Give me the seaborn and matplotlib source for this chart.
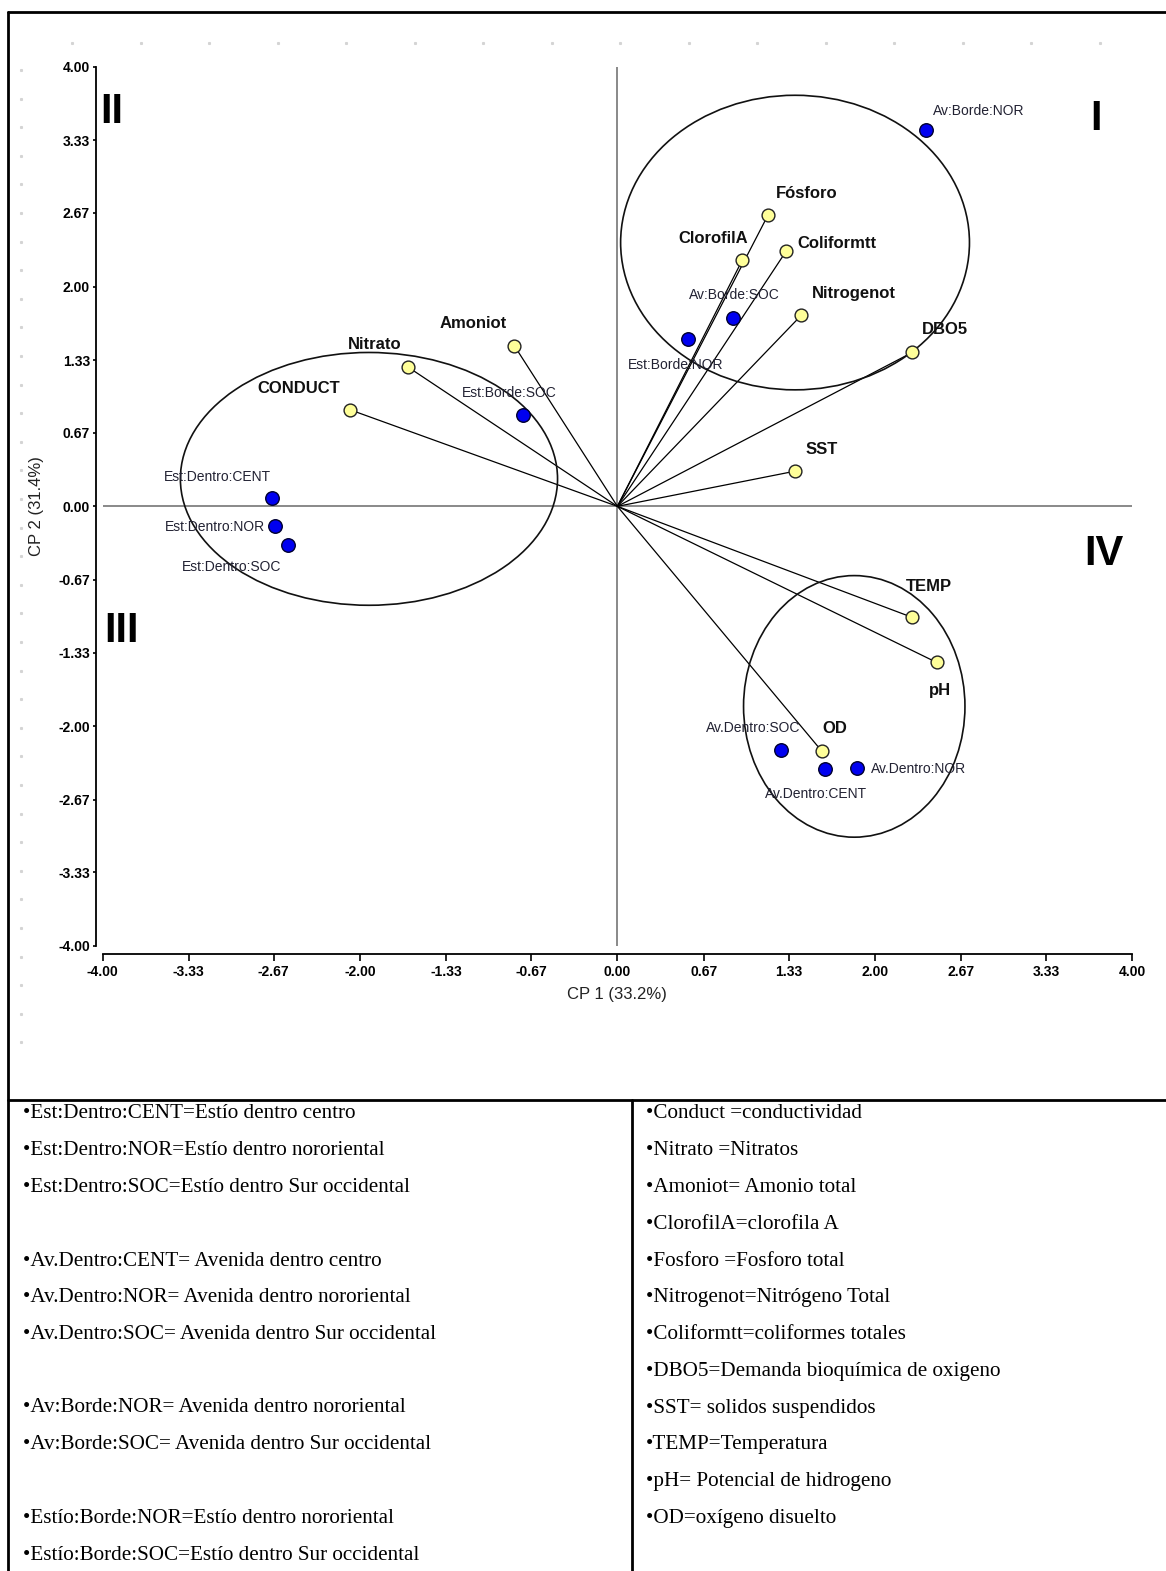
import numpy as np
import pandas as pd
import matplotlib
matplotlib.use("Agg")
import matplotlib.pyplot as plt
import seaborn as sns
from matplotlib.patches import Ellipse
from matplotlib.lines import Line2D

# ---- variable loadings on the first two principal components ----
var_names = ["Fósforo", "ClorofilA", "Coliformtt", "Nitrogenot", "DBO5", "SST",
             "TEMP", "pH", "OD", "Amoniot", "Nitrato", "CONDUCT"]
var_cp1 = [1.17, 0.97, 1.31, 1.43, 2.29, 1.38, 2.29, 2.48, 1.59, -0.80, -1.63, -2.08]
var_cp2 = [2.65, 2.24, 2.32, 1.74, 1.40, 0.32, -1.01, -1.42, -2.23, 1.46, 1.27, 0.88]

# ---- site / season scores ----
site_names = ["Av:Borde:NOR", "Av:Borde:SOC", "Est:Borde:NOR", "Est:Borde:SOC",
              "Est:Dentro:CENT", "Est:Dentro:NOR", "Est:Dentro:SOC",
              "Av.Dentro:SOC", "Av.Dentro:CENT", "Av.Dentro:NOR"]
site_cp1 = [2.40, 0.90, 0.55, -0.73, -2.68, -2.66, -2.56, 1.27, 1.61, 1.86]
site_cp2 = [3.42, 1.71, 1.52, 0.83, 0.08, -0.18, -0.35, -2.22, -2.39, -2.38]

# ---- groupings (centre x, centre y, width, height) ----
group_cx = [-1.93, 1.38, 1.84]
group_cy = [0.25, 2.40, -1.82]
group_w = [2.93, 2.71, 1.72]
group_h = [2.30, 2.68, 2.38]

axis_ticks = [-4.00, -3.33, -2.67, -2.00, -1.33, -0.67, 0.00, 0.67, 1.33, 2.00, 2.67, 3.33, 4.00]
tick_labels = ["-4.00", "-3.33", "-2.67", "-2.00", "-1.33", "-0.67", "0.00",
               "0.67", "1.33", "2.00", "2.67", "3.33", "4.00"]

# label placement: (dx, dy) in pixels, horizontal alignment
var_label_pos = {
    "Fósforo": (8, 22, "left"), "ClorofilA": (6, 22, "right"),
    "Coliformtt": (11, 8, "left"), "Nitrogenot": (10, 22, "left"),
    "DBO5": (10, 23, "left"), "SST": (10, 22, "left"),
    "TEMP": (-6, 31, "left"), "pH": (3, -28, "center"),
    "OD": (13, 23, "center"), "Amoniot": (-8, 22, "right"),
    "Nitrato": (-33, 22, "center"), "CONDUCT": (-10, 21, "right"),
}
site_label_pos = {
    "Av:Borde:NOR": (7, 19, "left"), "Av:Borde:SOC": (1, 23, "center"),
    "Est:Borde:NOR": (-13, -26, "center"), "Est:Borde:SOC": (-14, 22, "center"),
    "Est:Dentro:CENT": (-1, 21, "right"), "Est:Dentro:NOR": (-10, -1, "right"),
    "Est:Dentro:SOC": (-56, -22, "center"), "Av.Dentro:SOC": (-28, 22, "center"),
    "Av.Dentro:CENT": (-9, -25, "center"), "Av.Dentro:NOR": (14, -1, "left"),
}

legend_left = ["•Est:Dentro:CENT=Estío dentro centro",
               "•Est:Dentro:NOR=Estío dentro nororiental",
               "•Est:Dentro:SOC=Estío dentro Sur occidental",
               "",
               "•Av.Dentro:CENT= Avenida dentro centro",
               "•Av.Dentro:NOR= Avenida dentro nororiental",
               "•Av.Dentro:SOC= Avenida dentro Sur occidental",
               "",
               "•Av:Borde:NOR= Avenida dentro nororiental",
               "•Av:Borde:SOC= Avenida dentro Sur occidental",
               "",
               "•Estío:Borde:NOR=Estío dentro nororiental",
               "•Estío:Borde:SOC=Estío dentro Sur occidental"]
legend_right = ["•Conduct =conductividad", "•Nitrato =Nitratos",
                "•Amoniot= Amonio total", "•ClorofilA=clorofila A",
                "•Fosforo =Fosforo total", "•Nitrogenot=Nitrógeno Total",
                "•Coliformtt=coliformes totales",
                "•DBO5=Demanda bioquímica de oxigeno",
                "•SST= solidos suspendidos", "•TEMP=Temperatura",
                "•pH= Potencial de hidrogeno", "•OD=oxígeno disuelto"]

sns.set_style("ticks")
narrow = ["Liberation Sans Narrow", "Liberation Sans", "DejaVu Sans"]
serif = ["Liberation Serif", "DejaVu Serif"]
plt.rcParams["font.family"] = narrow

W, H = 1166, 1571
fig = plt.figure(figsize=(W / 100, H / 100), dpi=100)
fig.patch.set_facecolor("white")

ax = fig.add_axes([102.5 / W, 1 - 946 / H, (1132.3 - 102.5) / W, (946 - 66.7) / H])
ax.set_facecolor("none")

vars_df = pd.DataFrame({"cp1": var_cp1, "cp2": var_cp2, "name": var_names})
sites_df = pd.DataFrame({"cp1": site_cp1, "cp2": site_cp2, "name": site_names})

# reference axes through the origin
ax.axhline(0, color="#808080", lw=1.3, zorder=1)
ax.axvline(0, color="#808080", lw=1.3, zorder=1)

# loading vectors
for x, y in zip(var_cp1, var_cp2):
    ax.plot([0, x], [0, y], color="black", lw=0.9, zorder=2)

# group ellipses
for cx, cy, w, h in zip(group_cx, group_cy, group_w, group_h):
    ax.add_patch(Ellipse((cx, cy), w, h, fill=False, edgecolor="#111111", lw=1.2, zorder=2))

sns.scatterplot(data=vars_df, x="cp1", y="cp2", ax=ax, s=85, color="#FFFF99",
                edgecolor="#222222", linewidth=1.0, zorder=4, legend=False)
sns.scatterplot(data=sites_df, x="cp1", y="cp2", ax=ax, s=95, color="#0000F0",
                edgecolor="#000030", linewidth=1.0, zorder=4, legend=False)

for name, x, y in zip(var_names, var_cp1, var_cp2):
    dx, dy, ha = var_label_pos[name]
    ax.annotate(name, (x, y), xytext=(dx, dy), textcoords="offset pixels",
                ha=ha, va="center", fontsize=12, fontweight="bold",
                color="#111111", zorder=5)
for name, x, y in zip(site_names, site_cp1, site_cp2):
    dx, dy, ha = site_label_pos[name]
    ax.annotate(name, (x, y), xytext=(dx, dy), textcoords="offset pixels",
                ha=ha, va="center", fontsize=10, color="#222233", zorder=5)

# quadrant numerals
for txt, qx, qy in [("I", 3.72, 3.52), ("II", -3.93, 3.585),
                    ("III", -3.85, -1.13), ("IV", 3.78, -0.43)]:
    ax.text(qx, qy, txt, ha="center", va="center", fontsize=30,
            fontweight="bold", color="black")

ax.set_xlim(-4, 4)
ax.set_ylim(-4, 4)
ax.set_xticks(axis_ticks)
ax.set_xticklabels(tick_labels)
ax.set_yticks(axis_ticks)
ax.set_yticklabels(tick_labels)
ax.set_xlabel("CP 1 (33.2%)", fontsize=12, color="#222222", labelpad=6)
ax.set_ylabel("CP 2 (31.4%)", fontsize=12, color="#222222", labelpad=10)

sns.despine(ax=ax, offset={"left": 5, "bottom": 5.8}, trim=True)
for side in ("left", "bottom"):
    ax.spines[side].set_linewidth(1.3)
    ax.spines[side].set_color("black")

ax.tick_params(axis="x", length=5, width=1.2, pad=3, labelsize=10, colors="black")
ax.tick_params(axis="y", length=2.5, width=1.2, pad=1.5, labelsize=10, colors="black")
for lab in ax.get_xticklabels() + ax.get_yticklabels():
    lab.set_fontweight("bold")

# faint page grid dots
top_x = np.arange(72, 1110, 68.5)
left_y = np.arange(70, 1060, 28.6)
fig.add_artist(Line2D(top_x / W, np.full_like(top_x, 1 - 43 / H), ls="none",
                      marker="s", ms=1.2, color="#d4d4d4", transform=fig.transFigure))
fig.add_artist(Line2D(np.full_like(left_y, 21 / W), 1 - left_y / H, ls="none",
                      marker="s", ms=1.2, color="#d4d4d4", transform=fig.transFigure))

# frame and table rules
def rule(x0, y0, x1, y1, lw=2.0):
    fig.add_artist(Line2D([x0 / W, x1 / W], [1 - y0 / H, 1 - y1 / H],
                          color="black", lw=lw, transform=fig.transFigure))

rule(8, 12, W, 12)
rule(8, 12, 8, H)
rule(8, 1100, W, 1100)
rule(632, 1100, 632, H)

row0, row_step = 1114, 36.75
for i, line in enumerate(legend_left):
    if line:
        fig.text(23 / W, 1 - (row0 + i * row_step) / H, line, family=serif,
                 fontsize=15.2, va="center", ha="left", color="black")
for i, line in enumerate(legend_right):
    fig.text(646 / W, 1 - (row0 + i * row_step) / H, line, family=serif,
             fontsize=15.2, va="center", ha="left", color="black")

fig.savefig("out.png", dpi=100, facecolor="white")
